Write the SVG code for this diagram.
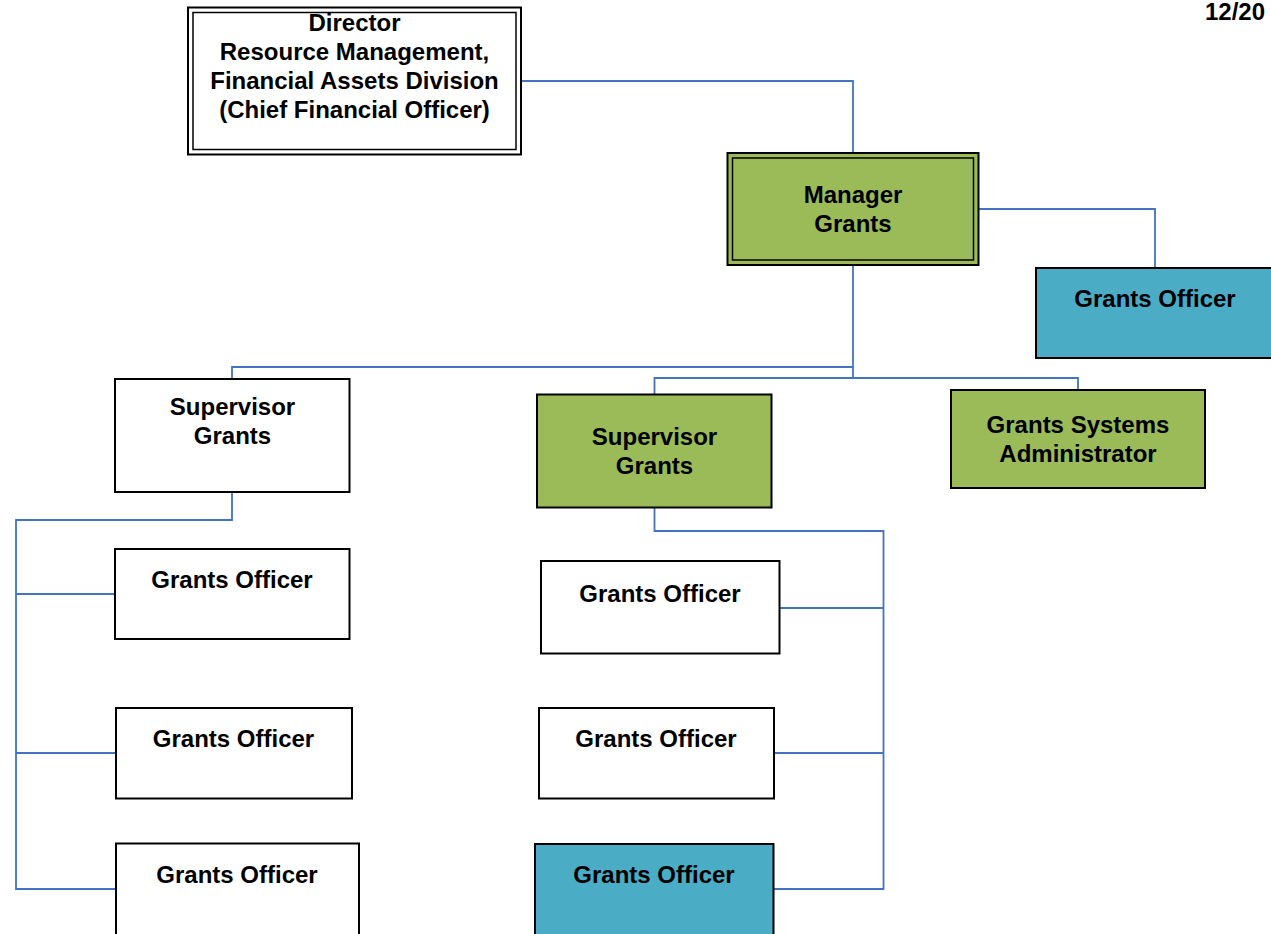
<svg xmlns="http://www.w3.org/2000/svg" width="1271" height="934" viewBox="0 0 1271 934">
  <style>
    .box { stroke: #000; stroke-width: 2; }
    .inner { fill: none; stroke: #000; stroke-width: 1.5; }
    .white { fill: #fff; }
    .green { fill: #9BBB59; }
    .cyan { fill: #4BACC6; }
    .lbl { font-family: "Liberation Sans", Arial, sans-serif; font-weight: bold; font-size: 24px; fill: #000; text-anchor: middle; }
    .link { fill: none; stroke: #4472C4; stroke-width: 1.8; }
  </style>
  <rect width="1271" height="934" fill="#fff"/>

  <!-- connectors -->
  <g id="connectors">
    <path class="link" d="M521 81 H853 V153"/>
    <path class="link" d="M978 209 H1155 V268"/>
    <path class="link" d="M853 265 V378"/>
    <path class="link" d="M853 367 H232 V379"/>
    <path class="link" d="M654.5 394 V378 H1078 V390"/>
    <path class="link" d="M232 492 V520 H16 V889 H115"/>
    <path class="link" d="M16 594 H115"/>
    <path class="link" d="M16 753 H116"/>
    <path class="link" d="M654.5 507 V531 H883.5 V889 H773"/>
    <path class="link" d="M883.5 608 H779"/>
    <path class="link" d="M883.5 753 H774"/>
  </g>

  <!-- director -->
  <g id="director">
    <rect class="box white" x="188" y="7.5" width="333" height="147"/>
    <rect class="inner" x="193" y="12.5" width="323" height="137"/>
    <text class="lbl" x="354.5" y="30.5">Director</text>
    <text class="lbl" x="354.5" y="59.5">Resource Management,</text>
    <text class="lbl" x="354.5" y="88.5">Financial Assets Division</text>
    <text class="lbl" x="354.5" y="117.5">(Chief Financial Officer)</text>
  </g>

  <!-- manager -->
  <g id="manager">
    <rect class="box green" x="727.5" y="153" width="251" height="112"/>
    <rect class="inner" x="732.5" y="158" width="241" height="102"/>
    <text class="lbl" x="853" y="202.5">Manager</text>
    <text class="lbl" x="853" y="231.5">Grants</text>
  </g>

  <!-- grants officer reporting to manager -->
  <g id="officer-top">
    <rect class="box cyan" x="1036" y="268" width="240" height="90"/>
    <text class="lbl" x="1155" y="306.5">Grants Officer</text>
  </g>

  <g id="supervisor-left">
    <rect class="box white" x="115" y="379" width="234.5" height="113"/>
    <text class="lbl" x="232.5" y="414.5">Supervisor</text>
    <text class="lbl" x="232.5" y="443.5">Grants</text>
  </g>

  <g id="supervisor-mid">
    <rect class="box green" x="537" y="394.5" width="234.5" height="113"/>
    <text class="lbl" x="654.5" y="444.5">Supervisor</text>
    <text class="lbl" x="654.5" y="473.5">Grants</text>
  </g>

  <g id="systems-admin">
    <rect class="box green" x="951" y="390" width="254" height="98"/>
    <text class="lbl" x="1078" y="432.5">Grants Systems</text>
    <text class="lbl" x="1078" y="461.5">Administrator</text>
  </g>

  <!-- left column officers -->
  <g id="officer-left-1">
    <rect class="box white" x="115" y="549" width="234.5" height="90"/>
    <text class="lbl" x="232" y="587.5">Grants Officer</text>
  </g>
  <g id="officer-left-2">
    <rect class="box white" x="116" y="708" width="236" height="90.5"/>
    <text class="lbl" x="233.5" y="746.5">Grants Officer</text>
  </g>
  <g id="officer-left-3">
    <rect class="box white" x="116" y="843.5" width="243" height="100"/>
    <text class="lbl" x="237" y="882.5">Grants Officer</text>
  </g>

  <!-- middle column officers -->
  <g id="officer-mid-1">
    <rect class="box white" x="541" y="561" width="238.5" height="92.5"/>
    <text class="lbl" x="660" y="601.5">Grants Officer</text>
  </g>
  <g id="officer-mid-2">
    <rect class="box white" x="539" y="708" width="235" height="90.5"/>
    <text class="lbl" x="656" y="746.5">Grants Officer</text>
  </g>
  <g id="officer-mid-3">
    <rect class="box cyan" x="535" y="844" width="238.5" height="100"/>
    <text class="lbl" x="654" y="882.5">Grants Officer</text>
  </g>

  <!-- date -->
  <text class="lbl" x="1205" y="20" style="text-anchor:start">12/20</text>
</svg>
